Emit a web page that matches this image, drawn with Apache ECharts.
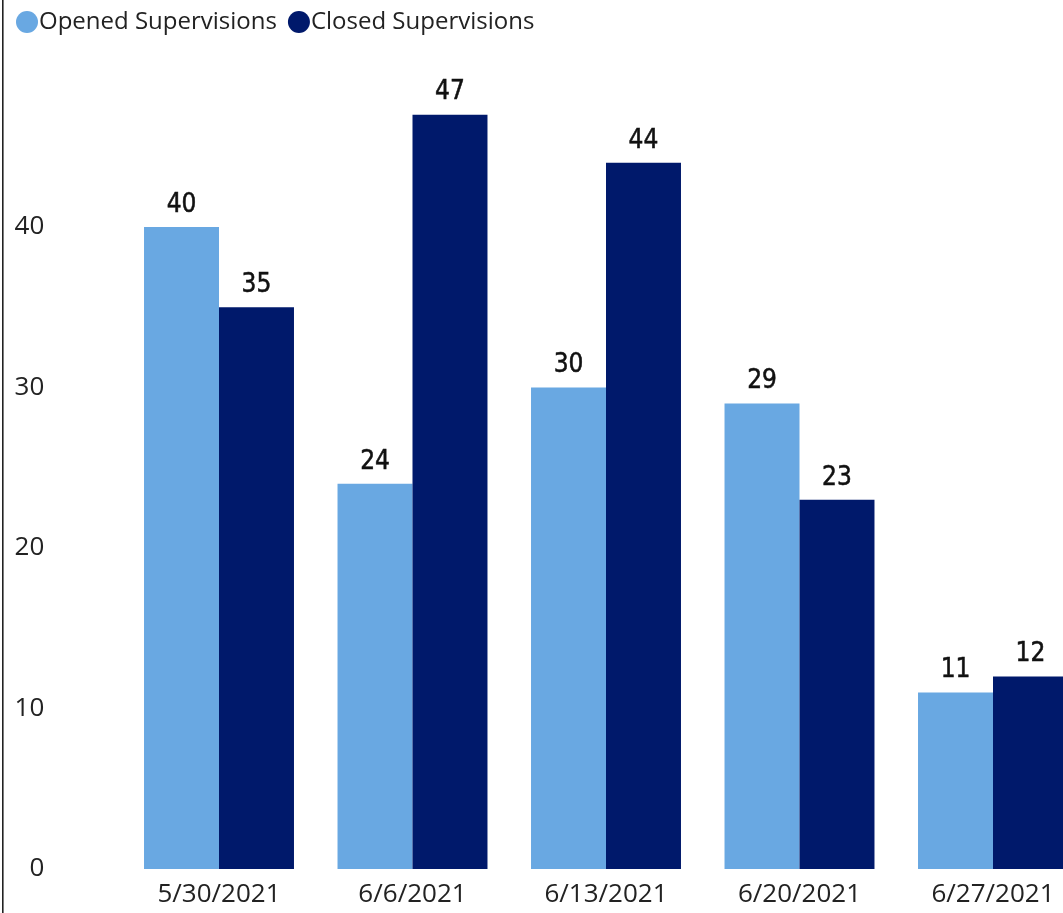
<!DOCTYPE html>
<html>
<head>
<meta charset="utf-8">
<script src="https://cdn.jsdelivr.net/npm/echarts@6/dist/echarts.min.js"></script>
<style>
html,body{margin:0;padding:0;background:#fff;overflow:hidden;width:1063px;height:913px;}
#c{width:1090px;height:913px;}
</style>
</head>
<body>
<div id="c"></div>
<script>
const categories = ['5/30/2021', '6/6/2021', '6/13/2021', '6/20/2021', '6/27/2021'];
const openedSupervisions = [40, 24, 30, 29, 11];
const closedSupervisions = [35, 47, 44, 23, 12];
const yTicks = [0, 10, 20, 30, 40];

const chart = echarts.init(document.getElementById('c'), null, {renderer: 'canvas'});
const labelStyle = {
  show: true,
  position: 'top',
  distance: 9,
  color: '#111',
  fontFamily: 'DejaVu Sans Condensed',
  fontWeight: 'normal',
  fontSize: 26,
  textBorderColor: '#111',
  textBorderWidth: 0.5
};
chart.setOption({
  animation: false,
  backgroundColor: '#fff',
  graphic: [{
    type: 'rect',
    shape: {x: 2, y: 0, width: 1.6, height: 913},
    style: {fill: '#222'}
  }],
  legend: {
    left: 11,
    top: 5,
    itemWidth: 22,
    itemHeight: 22,
    itemGap: 11,
    icon: 'circle',
    textStyle: {fontFamily: 'Open Sans', fontSize: 24, color: '#222', padding: [0, 0, 0, -4]},
    data: ['Opened Supervisions', 'Closed Supervisions']
  },
  grid: {left: 122.25, top: 66.5, width: 967.5, bottom: 44, containLabel: false},
  xAxis: {
    type: 'category',
    data: categories,
    axisLine: {show: false},
    axisTick: {show: false},
    axisLabel: {interval: 0, margin: 13, fontFamily: 'Open Sans', fontSize: 26, color: '#222'}
  },
  yAxis: {
    type: 'value',
    min: 0,
    max: 50,
    interval: 10,
    splitLine: {show: false},
    axisLine: {show: false},
    axisTick: {show: false},
    axisLabel: {
      margin: 78,
      fontFamily: 'Open Sans',
      fontSize: 26,
      color: '#222',
      formatter: v => yTicks.includes(v) ? String(v) : ''
    }
  },
  series: [{
    name: 'Opened Supervisions',
    type: 'bar',
    data: openedSupervisions,
    barGap: '0%',
    barCategoryGap: '22.5%',
    itemStyle: {color: '#69A8E2'},
    label: labelStyle
  }, {
    name: 'Closed Supervisions',
    type: 'bar',
    data: closedSupervisions,
    barGap: '0%',
    barCategoryGap: '22.5%',
    itemStyle: {color: '#00196B'},
    label: labelStyle
  }]
});
</script>
</body>
</html>
